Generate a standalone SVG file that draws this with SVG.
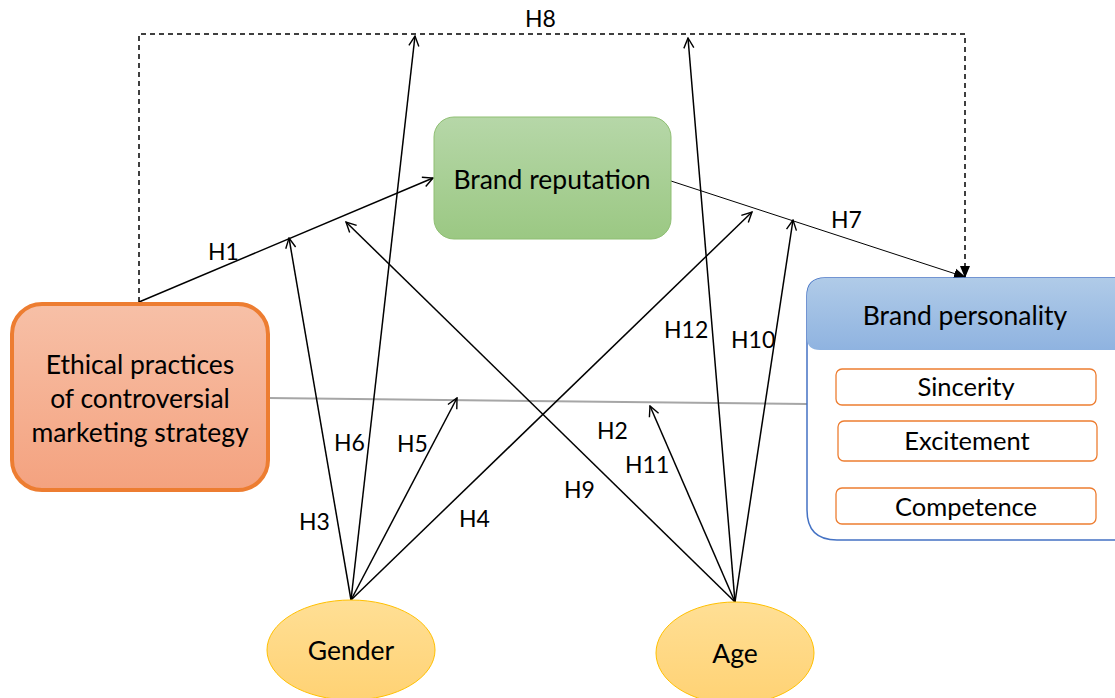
<svg xmlns="http://www.w3.org/2000/svg" width="1115" height="698" viewBox="0 0 1115 698">
<defs>
<linearGradient id="gGreen" x1="0" y1="0" x2="0" y2="1"><stop offset="0" stop-color="#b6d7a8"/><stop offset="1" stop-color="#9bc883"/></linearGradient>
<linearGradient id="gOrange" x1="0" y1="0" x2="0" y2="1"><stop offset="0" stop-color="#f7c0a7"/><stop offset="1" stop-color="#f4a27f"/></linearGradient>
<linearGradient id="gBlue" x1="0" y1="0" x2="0" y2="1"><stop offset="0" stop-color="#b0cbe8"/><stop offset="1" stop-color="#8fb3e0"/></linearGradient>
<linearGradient id="gYellow" x1="0" y1="0" x2="0" y2="1"><stop offset="0" stop-color="#ffdf95"/><stop offset="1" stop-color="#ffd274"/></linearGradient>
<marker id="open" viewBox="0 0 12 12" refX="11" refY="6" markerWidth="12" markerHeight="12" markerUnits="userSpaceOnUse" orient="auto"><path d="M1,1 L11,6 L1,11" fill="none" stroke="#000" stroke-width="1.4"/></marker>
<marker id="solid" viewBox="0 0 12 12" refX="11" refY="6" markerWidth="12" markerHeight="12" markerUnits="userSpaceOnUse" orient="auto"><path d="M0,1 L12,6 L0,11 Z" fill="#000"/></marker>
</defs>
<style>
text{font-family:Lato,"Liberation Sans",sans-serif;fill:#000}
.lbl{font-size:23px}
.node{font-size:26.5px;text-anchor:middle}
.sub{font-size:25.5px;text-anchor:middle}
.arr{fill:none;stroke:#000;stroke-width:1.5;marker-end:url(#open)}
</style>
<g id="connectors">
<path d="M139,302 V34 H965 V277" fill="none" stroke="#000" stroke-width="1.5" stroke-dasharray="5,4" marker-end="url(#solid)"/>
<line x1="268" y1="398" x2="807" y2="404" stroke="#a6a6a6" stroke-width="2"/>
<line class="arr" x1="139" y1="302" x2="433" y2="178"/>
<line x1="671" y1="181" x2="965" y2="277" stroke="#000" stroke-width="1" marker-end="url(#solid)"/>
<line class="arr" x1="351" y1="600" x2="289" y2="238"/>
<line class="arr" x1="351" y1="600" x2="415" y2="36"/>
<line class="arr" x1="351" y1="600" x2="457" y2="398"/>
<line class="arr" x1="351" y1="600" x2="752" y2="212"/>
<line class="arr" x1="735" y1="602" x2="346" y2="222"/>
<line class="arr" x1="735" y1="602" x2="650" y2="406"/>
<line class="arr" x1="735" y1="602" x2="688" y2="38"/>
<line class="arr" x1="735" y1="602" x2="793" y2="220"/>
<text class="lbl" x="525" y="27">H8</text>
<text class="lbl" x="208" y="260">H1</text>
<text class="lbl" x="831" y="228">H7</text>
<text class="lbl" x="664" y="338">H12</text>
<text class="lbl" x="731" y="348">H10</text>
<text class="lbl" x="334" y="451">H6</text>
<text class="lbl" x="397" y="452">H5</text>
<text class="lbl" x="299" y="530">H3</text>
<text class="lbl" x="459" y="527">H4</text>
<text class="lbl" x="597" y="439">H2</text>
<text class="lbl" x="625" y="473">H11</text>
<text class="lbl" x="564" y="498">H9</text>
</g>
<g id="brand-reputation">
<rect x="434" y="117" width="237" height="122" rx="20" fill="url(#gGreen)" stroke="#8fbf73" stroke-width="1"/>
<text class="node" x="552" y="189">Brand reputation</text>
</g>
<g id="ethical">
<rect x="12" y="304" width="256" height="186" rx="30" fill="url(#gOrange)" stroke="#ed7d31" stroke-width="4"/>
<text class="node" x="140" y="374">Ethical practices</text>
<text class="node" x="140" y="408">of controversial</text>
<text class="node" x="140" y="442">marketing strategy</text>
</g>
<g id="brand-personality">
<path d="M807,510 V296 Q807,278 825,278 H1125 V540 H837 Q807,540 807,510 Z" fill="#fff" stroke="#4472c4" stroke-width="1.5"/>
<path d="M807,350 V296 Q807,278 825,278 H1125 V350 H820 Q807,350 807,338 Z" fill="url(#gBlue)"/>
<text class="node" x="965" y="325">Brand personality</text>
<g id="sincerity"><rect x="836" y="369" width="260" height="36" rx="6" fill="#fff" stroke="#ed7d31" stroke-width="1.3"/><text class="sub" x="966" y="396">Sincerity</text></g>
<g id="excitement"><rect x="838" y="421" width="259" height="40" rx="6" fill="#fff" stroke="#ed7d31" stroke-width="1.3"/><text class="sub" x="967" y="450">Excitement</text></g>
<g id="competence"><rect x="836" y="488" width="260" height="36" rx="6" fill="#fff" stroke="#ed7d31" stroke-width="1.3"/><text class="sub" x="966" y="516">Competence</text></g>
</g>
<g id="gender">
<ellipse cx="351" cy="650" rx="84" ry="50" fill="url(#gYellow)" stroke="#ffc000" stroke-width="1"/>
<text class="node" x="351" y="660">Gender</text>
</g>
<g id="age">
<ellipse cx="735" cy="653" rx="79" ry="51" fill="url(#gYellow)" stroke="#ffc000" stroke-width="1"/>
<text class="node" x="735" y="663">Age</text>
</g>
</svg>
